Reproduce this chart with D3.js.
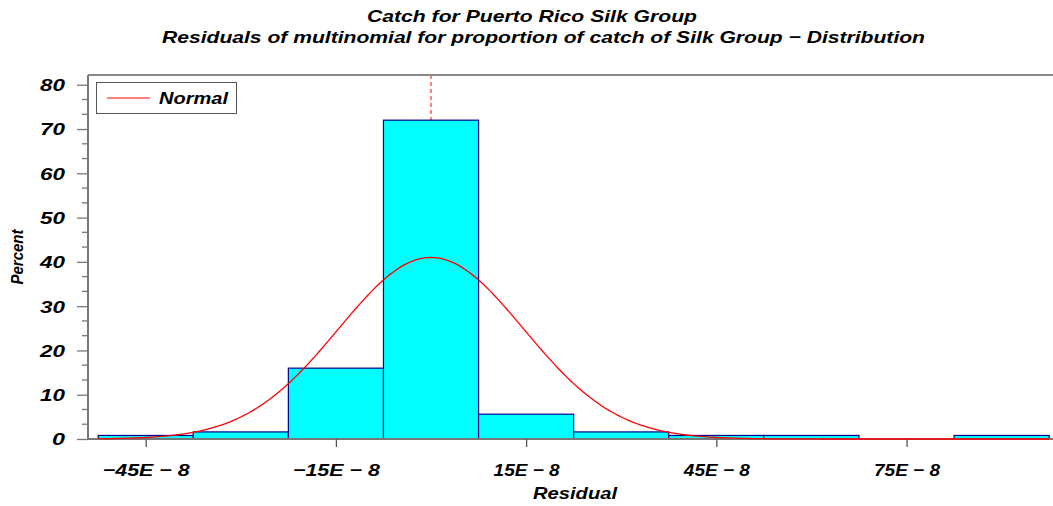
<!DOCTYPE html>
<html>
<head>
<meta charset="utf-8">
<script src="https://cdn.jsdelivr.net/npm/d3@7"></script>
<style>
  html, body { margin: 0; padding: 0; background: #fff; }
  svg text { font-family: "Liberation Sans", Arial, sans-serif; font-weight: bold; font-style: italic; fill: #000; }
</style>
</head>
<body>
<svg id="chart" width="1053" height="506"></svg>
<script>
// ---- data (residual units: E-8) ----
const binMidpoints = [-45, -30, -15, 0, 15, 30, 45, 60, 75, 90];
const binPercents  = [0.8, 1.6, 16, 72, 5.6, 1.6, 0.8, 0.8, 0, 0.8];
const binWidth = 15;
const xTickValues = [-45, -15, 15, 45, 75];
const xTickLabels = ["\u221245E \u2212 8", "\u221215E \u2212 8", "15E \u2212 8", "45E \u2212 8", "75E \u2212 8"];
const yTickValues = [0, 10, 20, 30, 40, 50, 60, 70, 80];
const normalMean = 0;
const normalSd = 14.6;
const titleLines = ["Catch for Puerto Rico Silk Group",
  "Residuals of multinomial for proportion of catch of Silk Group  \u2212  Distribution"];

(function () {
// ---- layout ----
const svg = d3.select("#chart");
const pL = 88, pR = 1053, pT = 75, pB = 439;
const x = d3.scaleLinear().domain([-54.1, 98.1]).range([pL, pR]);
const y = d3.scaleLinear().domain([0, 82.2]).range([pB, pT]);

// titles
svg.append("text").attr("x", 532).attr("y", 22).attr("text-anchor", "middle")
  .style("font-size", "17px").attr("textLength", 330).attr("lengthAdjust", "spacingAndGlyphs").text(titleLines[0]);
svg.append("text").attr("x", 543.5).attr("y", 43).attr("text-anchor", "middle")
  .style("font-size", "17px").attr("textLength", 763).attr("lengthAdjust", "spacingAndGlyphs").text(titleLines[1]);

// reference line at mean (dashed)
svg.append("line")
  .attr("x1", x(normalMean)).attr("x2", x(normalMean))
  .attr("y1", pT).attr("y2", pB)
  .attr("stroke", "#ff4040").attr("stroke-width", 1.3).attr("stroke-dasharray", "4,3");

// bars
const bins = binMidpoints.map((m, i) => ({ m, p: binPercents[i] }));
svg.append("g").selectAll("rect").data(bins.filter(d => d.p > 0)).join("rect")
  .attr("x", d => x(d.m - binWidth / 2))
  .attr("width", d => x(d.m + binWidth / 2) - x(d.m - binWidth / 2))
  .attr("y", d => y(d.p))
  .attr("height", d => y(0) - y(d.p))
  .attr("fill", "#00ffff")
  .attr("stroke", "#000090")
  .attr("stroke-width", 1.2);

// frame: top border
svg.append("line").attr("x1", pL).attr("x2", pR).attr("y1", pT).attr("y2", pT)
  .attr("stroke", "#888").attr("stroke-width", 2);

// y axis
const yAxis = d3.axisLeft(y).tickValues(yTickValues).tickSize(11).tickPadding(12).tickFormat(d3.format("d"));
const gy = svg.append("g").attr("transform", `translate(${pL},0)`).call(yAxis);
gy.select(".domain").attr("stroke", "#777").attr("stroke-width", 2).attr("d", `M0,${pT}V${pB}`);
gy.selectAll(".tick line").attr("stroke", "#777").attr("stroke-width", 1.3);
gy.selectAll(".tick text").style("font-size", "17px")
  .style("font-family", "'Liberation Sans', Arial, sans-serif").style("font-weight", "bold").style("font-style", "italic")
  .attr("dy", "0.35em")
  .attr("textLength", d => String(d).length > 1 ? 25 : 13)
  .attr("lengthAdjust", "spacingAndGlyphs");
// minor y ticks
const minor = [];
yTickValues.slice(0, -1).forEach(v => { minor.push(v + 10 / 3, v + 20 / 3); });
gy.append("g").selectAll("line").data(minor).join("line")
  .attr("x1", -6).attr("x2", 0).attr("y1", d => y(d)).attr("y2", d => y(d))
  .attr("stroke", "#777").attr("stroke-width", 1.3);

// x axis
const xAxis = d3.axisBottom(x).tickValues(xTickValues).tickSize(8).tickPadding(17)
  .tickFormat((d, i) => xTickLabels[i]);
const gx = svg.append("g").attr("transform", `translate(0,${pB})`).call(xAxis);
gx.select(".domain").attr("stroke", "#777").attr("stroke-width", 2).attr("d", `M${pL},0H${pR}`);
gx.selectAll(".tick line").attr("stroke", "#555").attr("stroke-width", 1.3);
gx.selectAll(".tick text").style("font-size", "17px")
  .style("font-family", "'Liberation Sans', Arial, sans-serif").style("font-weight", "bold").style("font-style", "italic")
  .attr("textLength", (d, i) => xTickLabels[i].startsWith("\u2212") ? 87 : 66)
  .attr("lengthAdjust", "spacingAndGlyphs");

// normal curve
const xs = d3.range(-52.5, 97.5 + 0.01, 0.5);
const normalPct = v => 100 * binWidth * Math.exp(-0.5 * Math.pow((v - normalMean) / normalSd, 2)) / (normalSd * Math.sqrt(2 * Math.PI));
svg.append("path").datum(xs)
  .attr("fill", "none").attr("stroke", "#ff0000").attr("stroke-width", 1.3)
  .attr("d", d3.line().x(v => x(v)).y(v => y(normalPct(v))));

// axis labels
svg.append("text").attr("x", 575).attr("y", 499).attr("text-anchor", "middle")
  .style("font-size", "17px").attr("textLength", 84).attr("lengthAdjust", "spacingAndGlyphs").text("Residual");
svg.append("text").attr("transform", "translate(23,257) rotate(-90)").attr("text-anchor", "middle")
  .style("font-size", "17px").attr("textLength", 55).attr("lengthAdjust", "spacingAndGlyphs").text("Percent");

// legend
const lg = svg.append("g");
lg.append("rect").attr("x", 96.5).attr("y", 82.5).attr("width", 140).attr("height", 31)
  .attr("fill", "#fff").attr("stroke", "#555").attr("stroke-width", 1);
lg.append("line").attr("x1", 107).attr("x2", 150).attr("y1", 98).attr("y2", 98)
  .attr("stroke", "#ff0000").attr("stroke-width", 1.2);
lg.append("text").attr("x", 159).attr("y", 104).style("font-size", "17px")
  .attr("textLength", 69).attr("lengthAdjust", "spacingAndGlyphs").text("Normal");
})();
</script>
</body>
</html>
